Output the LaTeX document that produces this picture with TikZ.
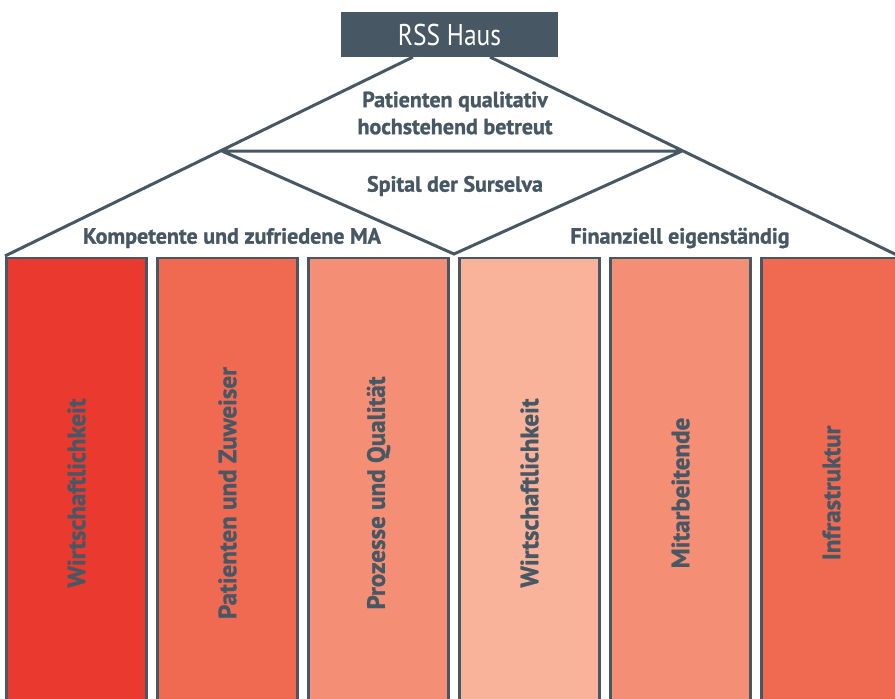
\documentclass[tikz,border=0pt]{standalone}
\usepackage{fontspec}
\setmainfont{PT Sans}[BoldFont={PT Sans Bold}, BoldFeatures={FakeBold=1.2}]
\newfontfamily\titlefont[FakeStretch=0.85]{PT Sans}
\usepackage{tikz}
\usetikzlibrary{positioning}

\definecolor{slate}{HTML}{475864}
\definecolor{redA}{HTML}{EA3A30}
\definecolor{redB}{HTML}{F06A52}
\definecolor{redC}{HTML}{F48E74}
\definecolor{redD}{HTML}{F8B39A}

\begin{document}
\begin{tikzpicture}[x=1pt, y=-1pt]
        \tikzstyle{roof}=[draw=slate, line width=3pt]
        \tikzstyle{pillar}=[draw=slate, line width=2.5pt, minimum width=140pt, minimum height=470pt, inner sep=0pt, outer sep=0pt, text=slate, font=\fontsize{25}{27}\selectfont\bfseries]
        \tikzstyle{rooftext}=[text=slate, align=center, font=\fontsize{22}{27}\selectfont\bfseries]

        \useasboundingbox (0,0) rectangle (895,699);
        \clip (0,0) rectangle (895,699);

        % pillars
        \node   (p1)    [pillar, fill=redA, anchor=north] at (76.5,258) {\rotatebox{90}{Wirtschaftlichkeit}};
        \node   (p2)    [pillar, fill=redB, right=11pt of p1] {\rotatebox{90}{Patienten und Zuweiser}};
        \node   (p3)    [pillar, fill=redC, right=11pt of p2] {\rotatebox{90}{Prozesse und Qualität}};
        \node   (p4)    [pillar, fill=redD, right=11pt of p3] {\rotatebox{90}{Wirtschaftlichkeit}};
        \node   (p5)    [pillar, fill=redC, right=11pt of p4] {\rotatebox{90}{Mitarbeitende}};
        \node   (p6)    [pillar, fill=redB, right=11pt of p5] {\rotatebox{90}{Infrastruktur}};

        % roof
        \node   (haus)  [fill=slate, text=white, minimum width=217pt, minimum height=45pt, inner sep=0pt,
                         font=\titlefont\fontsize{30}{30}\selectfont] at (449.5,34.5) {RSS Haus};
        \coordinate (topL)   at (413,57);
        \coordinate (topR)   at (490,57);
        \coordinate (midL)   at (222,151);
        \coordinate (midR)   at (682,151);
        \coordinate (eaveL)  at (5,256);
        \coordinate (eaveR)  at (905,259);
        \coordinate (valley) at (454,254);

        \path[roof] (topL) -- (eaveL)
                    (topR) -- (eaveR)
                    (midL) -- (midR)
                    (midL) -- (valley) -- (midR);

        \node   (ziel)  [rooftext] at (455,113) {Patienten qualitativ\\hochstehend betreut};
        \node   (spital)[rooftext] at (455,186) {Spital der Surselva};
        \node   (ma)    [rooftext] at (232,238) {Kompetente und zufriedene MA};
        \node   (fin)   [rooftext] at (680,238) {Finanziell eigenständig};
    \end{tikzpicture}
\end{document}
